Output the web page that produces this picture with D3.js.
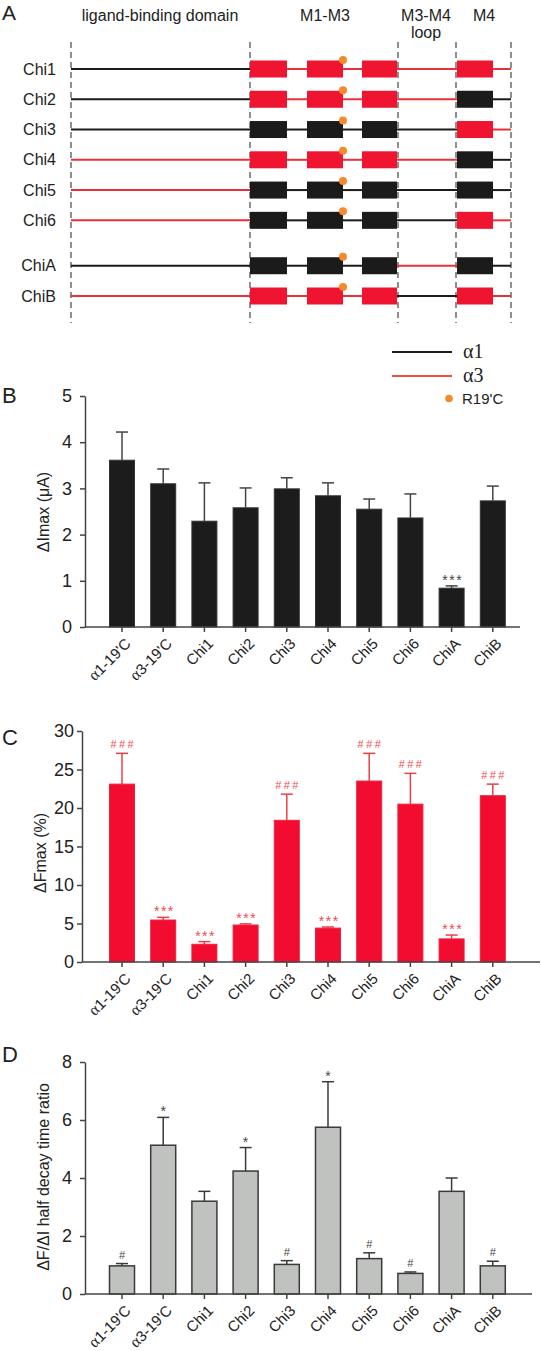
<!DOCTYPE html>
<html><head><meta charset="utf-8">
<script src="https://cdn.jsdelivr.net/npm/d3@7"></script>
<style>
body{margin:0;background:#fff}
svg{display:block;font-family:Arial,"Liberation Sans",sans-serif}
</style>
</head><body>
<svg id="c" width="541" height="1351"></svg>
<script>
// ---------- Panel A data ----------
const constructs = ["Chi1","Chi2","Chi3","Chi4","Chi5","Chi6","ChiA","ChiB"];
const ligandSub = ["a1","a1","a1","a3","a3","a3","a1","a3"];
const tm13Sub   = ["a3","a3","a1","a3","a1","a1","a1","a3"];
const loopSub   = ["a3","a3","a1","a3","a1","a1","a3","a1"];
const tm4Sub    = ["a3","a1","a3","a1","a1","a3","a1","a3"];
const domainLabels = ["ligand-binding domain","M1-M3","M3-M4","M4"];
const legendLabels = ["α1","α3","R19'C"];

// ---------- Bar chart data ----------
const categories = ["α1-19'C","α3-19'C","Chi1","Chi2","Chi3","Chi4","Chi5","Chi6","ChiA","ChiB"];
const imaxMean  = [3.61,3.10,2.29,2.58,2.99,2.84,2.55,2.36,0.84,2.73];
const imaxSem   = [0.61,0.32,0.83,0.43,0.24,0.28,0.22,0.52,0.05,0.32];
const imaxNotes = ["","","","","","","","","***",""];
const imaxTicks = [0,1,2,3,4,5];

const fmaxMean  = [23.1,5.45,2.3,4.8,18.4,4.4,23.5,20.5,3.0,21.6];
const fmaxSem   = [4.0,0.35,0.35,0.15,3.4,0.15,3.6,4.0,0.5,1.5];
const fmaxNotes = ["###","***","***","***","###","***","###","###","***","###"];
const fmaxTicks = [0,5,10,15,20,25,30];

const ratioMean  = [0.97,5.13,3.2,4.24,1.02,5.75,1.22,0.71,3.54,0.97];
const ratioSem   = [0.08,0.96,0.34,0.81,0.13,1.57,0.2,0.05,0.46,0.16];
const ratioNotes = ["#","*","","*","#","*","#","#","","#"];
const ratioTicks = [0,2,4,6,8];

// ---------- styles ----------
const BLACK = "#1b1b1b", RED_LINE = "#e8303a", RED_BOX = "#ef1430", ORANGE = "#f5892c";
const subColor = s => s === "a1" ? BLACK : RED_LINE;
const boxColor = s => s === "a1" ? BLACK : RED_BOX;

const svg = d3.select("#c");
svg.append("rect").attr("width",541).attr("height",1351).attr("fill","#fff");

// ================= Panel A =================
const A = svg.append("g");
A.append("text").attr("x",2).attr("y",20).attr("font-size",21).attr("fill","#222").text("A");

const bx = {lig0:71, lig1:250, m1:[250,287], m2:[307,343], m3:[362,397], loop1:398, m4:[457,493], end:511};
const rowIdx = i => i + (i >= 6 ? 0.5 : 0);
const yRow = d3.scaleLinear().domain([0, 7.5]).range([69, 296]);

[bx.lig0, bx.lig1, bx.loop1, 456, bx.end].forEach(x => {
  A.append("line").attr("x1",x).attr("x2",x).attr("y1",42).attr("y2",323)
    .attr("stroke","#333").attr("stroke-width",1.1).attr("stroke-dasharray","6,4");
});

const hdr = [[160,21,domainLabels[0]],[325,21,domainLabels[1]],[426,21,domainLabels[2]],[426,38,"loop"],[484,21,domainLabels[3]]];
hdr.forEach(([x,y,t]) => A.append("text").attr("x",x).attr("y",y).attr("text-anchor","middle")
  .attr("font-size",16).attr("fill","#222").text(t));

constructs.forEach((name,i) => {
  const y = yRow(rowIdx(i));
  A.append("text").attr("x",56).attr("y",y).attr("dy","0.35em").attr("text-anchor","end")
    .attr("font-size",16).attr("fill","#222").text(name);
  const seg = (x1,x2,c) => A.append("line").attr("x1",x1).attr("x2",x2).attr("y1",y).attr("y2",y)
    .attr("stroke",c).attr("stroke-width",2);
  seg(bx.lig0, bx.lig1, subColor(ligandSub[i]));
  seg(bx.m1[1], bx.m2[0], subColor(tm13Sub[i]));
  seg(bx.m2[1], bx.m3[0], subColor(tm13Sub[i]));
  seg(bx.m3[1], bx.m4[0], subColor(loopSub[i]));
  seg(bx.m4[1], bx.end, subColor(tm4Sub[i]));
  [bx.m1,bx.m2,bx.m3].forEach(m => A.append("rect").attr("x",m[0]).attr("y",y-8.5)
    .attr("width",m[1]-m[0]).attr("height",17).attr("fill",boxColor(tm13Sub[i])));
  A.append("rect").attr("x",bx.m4[0]).attr("y",y-8.5).attr("width",bx.m4[1]-bx.m4[0]).attr("height",17)
    .attr("fill",boxColor(tm4Sub[i]));
  A.append("circle").attr("cx",bx.m2[1]).attr("cy",y-9).attr("r",4).attr("fill",ORANGE);
});

// legend
A.append("line").attr("x1",392).attr("x2",452).attr("y1",352).attr("y2",352).attr("stroke",BLACK).attr("stroke-width",2);
A.append("text").attr("x",463).attr("y",358).attr("font-family","'Liberation Serif','DejaVu Serif',serif")
  .attr("font-size",20).attr("fill","#222").text(legendLabels[0]);
A.append("line").attr("x1",392).attr("x2",452).attr("y1",376).attr("y2",376).attr("stroke","#f0503a").attr("stroke-width",2);
A.append("text").attr("x",463).attr("y",382).attr("font-family","'Liberation Serif','DejaVu Serif',serif")
  .attr("font-size",20).attr("fill","#222").text(legendLabels[1]);
A.append("circle").attr("cx",449).attr("cy",398.5).attr("r",3.8).attr("fill",ORANGE);
A.append("text").attr("x",462).attr("y",404).attr("font-size",15).attr("fill","#222").text(legendLabels[2]);

// ================= Bar panels =================
const x = d3.scaleBand().domain(categories).range([109.5, 505.3]).paddingInner(0.393).paddingOuter(0);

function barPanel(o) {
  const g = svg.append("g");
  const y = d3.scaleLinear().domain([0, o.ticks[o.ticks.length-1]]).range([o.y0, o.y1]);
  g.append("text").attr("x",2).attr("y",o.letterY).attr("font-size",22).attr("fill","#222").text(o.letter);

  const ya = g.append("g").attr("transform",`translate(${o.axisX},0)`)
    .call(d3.axisLeft(y).tickValues(o.ticks).tickSize(5).tickSizeOuter(0).tickPadding(o.tickPad).tickFormat(d3.format("d")));
  ya.select(".domain").attr("stroke","#444").attr("stroke-width",1.5);
  ya.selectAll(".tick line").attr("stroke","#444").attr("stroke-width",1.5);
  ya.selectAll(".tick text").attr("font-size",18).attr("fill","#222").attr("font-family","Arial,'Liberation Sans',sans-serif");

  g.append("text").attr("transform",`translate(${o.labelX},${o.labelY}) rotate(-90)`)
    .attr("text-anchor","middle").attr("dy","0.35em").attr("font-size",16).attr("fill","#222").text(o.ylabel);

  const data = categories.map((c,i) => ({c, m:o.mean[i], s:o.sem[i], n:o.notes[i]}));
  g.selectAll("rect.bar").data(data).join("rect").attr("class","bar")
    .attr("x",d => x(d.c)).attr("width",x.bandwidth())
    .attr("y",d => y(d.m)).attr("height",d => y(0)-y(d.m))
    .attr("fill",o.fill).attr("stroke",o.stroke).attr("stroke-width",o.strokeW);
  const cx = d => x(d.c) + x.bandwidth()/2;
  g.selectAll("line.err").data(data).join("line").attr("class","err")
    .attr("x1",cx).attr("x2",cx).attr("y1",d => y(d.m)).attr("y2",d => y(d.m+d.s))
    .attr("stroke",o.err).attr("stroke-width",1.5);
  g.selectAll("line.cap").data(data).join("line").attr("class","cap")
    .attr("x1",d => cx(d)-6).attr("x2",d => cx(d)+6).attr("y1",d => y(d.m+d.s)).attr("y2",d => y(d.m+d.s))
    .attr("stroke",o.err).attr("stroke-width",1.5);
  g.selectAll("text.note").data(data.filter(d => d.n)).join("text").attr("class","note")
    .attr("x",d => cx(d) + (d.n.length>1 ? 1.2 : 0)).attr("y",d => y(d.m+d.s) - (d.n[0]==="#" ? 5 : 1))
    .attr("text-anchor","middle").attr("font-size",d => d.n[0]==="#" ? 11 : 14)
    .attr("letter-spacing",d => d.n.length>1 ? (d.n[0]==="#" ? 2.4 : 1.5) : 0)
    .attr("fill",o.noteColor).text(d => d.n);

  const xa = g.append("g").attr("transform",`translate(0,${o.y0})`)
    .call(d3.axisBottom(x).tickSize(5).tickSizeOuter(0));
  xa.select(".domain").remove();
  xa.append("line").attr("x1",o.axisX).attr("x2",o.axisEnd).attr("y1",0).attr("y2",0)
    .attr("stroke","#444").attr("stroke-width",1.5);
  xa.selectAll(".tick line").attr("stroke","#444").attr("stroke-width",1.5);
  xa.selectAll(".tick text").each(function(d){
    const t = d3.select(this);
    t.text(null).attr("x",0).attr("y",0).attr("dy","0.35em").attr("font-size",15).attr("fill","#222")
      .attr("font-family","Arial,'Liberation Sans',sans-serif")
      .style("text-anchor","end").attr("transform","translate(6,14) rotate(-45)");
    if (d[0] === "α") {
      t.append("tspan").attr("font-family","'Liberation Serif','DejaVu Serif',serif").attr("font-size",16).text("α");
      t.append("tspan").text(d.slice(1));
    } else t.append("tspan").text(d);
  });
}

barPanel({letter:"B", letterY:403, y0:627, y1:396, ticks:imaxTicks, axisX:85, axisEnd:520, tickPad:8,
  mean:imaxMean, sem:imaxSem, notes:imaxNotes, fill:"#1c1c1c", stroke:"#333", strokeW:1,
  err:"#444", noteColor:"#444", ylabel:"ΔImax (μA)", labelX:43, labelY:512});
barPanel({letter:"C", letterY:745, y0:962, y1:731, ticks:fmaxTicks, axisX:82, axisEnd:540, tickPad:3,
  mean:fmaxMean, sem:fmaxSem, notes:fmaxNotes, fill:"#f20d30", stroke:"#f0203c", strokeW:1,
  err:"#e8404a", noteColor:"#ee4a50", ylabel:"ΔFmax (%)", labelX:40, labelY:853});
barPanel({letter:"D", letterY:1062, y0:1294, y1:1062, ticks:ratioTicks, axisX:85, axisEnd:532, tickPad:8,
  mean:ratioMean, sem:ratioSem, notes:ratioNotes, fill:"#c0c2c0", stroke:"#3a3a3a", strokeW:1.5,
  err:"#3a3a3a", noteColor:"#444", ylabel:"ΔF/ΔI half decay time ratio", labelX:43, labelY:1177});
</script>
</body></html>
